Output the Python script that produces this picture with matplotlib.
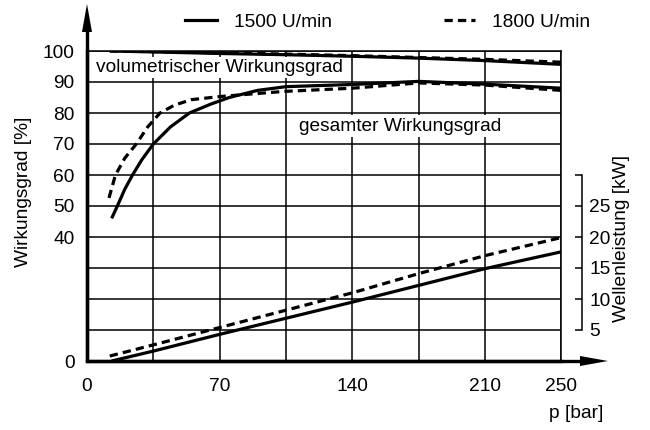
import matplotlib
matplotlib.use('Agg')
import matplotlib.pyplot as plt
from matplotlib.lines import Line2D
from matplotlib.patches import Polygon

plt.rcParams['font.family'] = ['Liberation Sans', 'DejaVu Sans']
FS = 13.8

# ---- data ----
p_vol = [12, 35, 70, 105, 140, 175, 210, 250]
vol_1500 = [100.0, 99.7, 99.2, 98.8, 98.3, 97.7, 96.9, 95.7]
vol_1800 = [100.0, 99.8, 99.4, 99.0, 98.5, 97.9, 97.3, 96.4]

p_ges_1500 = [13, 16, 20, 24, 29, 35, 44, 54, 65, 75, 90, 105, 140, 175, 210, 250]
ges_1500 = [46, 50, 55.5, 60, 65, 70, 75.5, 80, 82.8, 85, 87.3, 88.5, 89.2, 90.2, 89.3, 88.0]

p_ges_1800 = [11.6, 15, 20, 26, 32, 38.5, 46, 55, 70, 90, 105, 140, 175, 210, 250]
ges_1800 = [52.6, 60, 65.5, 70, 75.5, 80, 82.5, 84.3, 85.3, 86.3, 87.0, 88.0, 89.7, 89.0, 87.3]

p_pow = [13, 35, 70, 105, 140, 175, 210, 250]
pow_1500 = [0.0, 1.6, 4.3, 6.9, 9.5, 12.2, 14.9, 17.6]
p_pow_1800 = [12, 35, 70, 105, 140, 175, 210, 250]
pow_1800 = [0.8, 2.6, 5.4, 8.2, 11.0, 14.1, 17.0, 19.9]

x_ticks = [0, 70, 140, 210, 250]
x_grid = [35, 105, 175]
y_ticks = [0, 40, 50, 60, 70, 80, 90, 100]
y_grid = [10, 20, 30]
kw_ticks = [5, 10, 15, 20, 25, 30]
kw_labels = ['5', '10', '15', '20', '25', '']

labels = ['1500 U/min', '1800 U/min']

LW = 2.3
DASH = (0, (2.6, 1.6))
W, H = 650, 430

fig = plt.figure(figsize=(6.5, 4.3), dpi=100)
ax = fig.add_axes([87/W, 69/H, 474/W, 310/H])
ax.set_xlim(0, 250)
ax.set_ylim(0, 100)

ax.set_xticks(x_ticks)
ax.set_xticks(x_grid, minor=True)
ax.set_yticks(y_ticks)
ax.set_yticks(y_grid, minor=True)
ax.grid(which='both', color='black', lw=1.1)
ax.set_axisbelow(True)
ax.tick_params(which='both', length=0, labelsize=FS)
ax.tick_params(axis='y', pad=9)
ax.tick_params(axis='x', pad=12)

for s in ['top', 'right']:
    ax.spines[s].set_linewidth(1.1)
for s in ['left', 'bottom']:
    ax.spines[s].set_linewidth(2.4)

ax.plot(p_vol, vol_1500, color='black', lw=LW, solid_capstyle='butt', zorder=3)
ax.plot(p_vol, vol_1800, color='black', lw=LW, ls=DASH, zorder=3)
ax.plot(p_ges_1500, ges_1500, color='black', lw=LW, solid_capstyle='butt', zorder=3)
ax.plot(p_ges_1800, ges_1800, color='black', lw=LW, ls=DASH, zorder=3)

ax.text(4.7, 94.8, 'volumetrischer Wirkungsgrad', fontsize=FS, va='center', ha='left',
        bbox=dict(facecolor='white', edgecolor='none', pad=1.5), zorder=2)
ax.text(112, 75.8, 'gesamter Wirkungsgrad', fontsize=FS, va='center', ha='left',
        bbox=dict(facecolor='white', edgecolor='none', pad=1.5), zorder=2)

# right axis (shaft power)
ax2 = ax.twinx()
ax2.set_ylim(0, 50)
for s in ['top', 'left', 'bottom']:
    ax2.spines[s].set_visible(False)
ax2.spines['right'].set_position(('outward', 15))
ax2.spines['right'].set_bounds(5, 30)
ax2.spines['right'].set_linewidth(1.1)
ax2.set_yticks(kw_ticks)
ax2.set_yticklabels(kw_labels)
ax2.tick_params(axis='y', direction='in', length=5, width=1.1, pad=5.5, labelsize=FS)

ax2.plot(p_pow, pow_1500, color='black', lw=LW, solid_capstyle='butt', clip_on=False)
ax2.plot(p_pow_1800, pow_1800, color='black', lw=LW, ls=DASH, clip_on=False)

# axis arrows (figure pixel positions converted to fractions)
x0, y0 = 87, 361
fig.add_artist(Line2D([x0/W, 585/W], [1 - y0/H, 1 - y0/H], lw=2.4, color='black',
                      transform=fig.transFigure, solid_capstyle='butt'))
fig.add_artist(Polygon([(580/W, 1 - (y0 - 5)/H), (608/W, 1 - y0/H), (580/W, 1 - (y0 + 5)/H)],
                       closed=True, facecolor='black', edgecolor='none',
                       transform=fig.transFigure))
fig.add_artist(Line2D([x0/W, x0/W], [1 - y0/H, 1 - 28/H], lw=2.4, color='black',
                      transform=fig.transFigure, solid_capstyle='butt'))
fig.add_artist(Polygon([((x0 - 5)/W, 1 - 32/H), (x0/W, 1 - 4/H), ((x0 + 5)/W, 1 - 32/H)],
                       closed=True, facecolor='black', edgecolor='none',
                       transform=fig.transFigure))

fig.text(24/W, 1 - 192/H, 'Wirkungsgrad [%]', rotation=90, ha='center', va='center', fontsize=FS)
fig.text(622/W, 1 - 238/H, 'Wellenleistung [kW]', rotation=90, ha='center', va='center', fontsize=FS)
fig.text(576/W, 1 - 413/H, 'p [bar]', ha='center', va='center', fontsize=FS)

handles = [Line2D([], [], color='black', lw=LW),
           Line2D([], [], color='black', lw=LW, ls=DASH)]
fig.legend(handles, labels, loc='center', bbox_to_anchor=(388/W, 1 - 22/H), ncol=2,
           frameon=False, fontsize=FS, handlelength=1.65, handletextpad=0.9,
           columnspacing=5.8, borderpad=0, borderaxespad=0)

fig.savefig('out.png', dpi=100)
